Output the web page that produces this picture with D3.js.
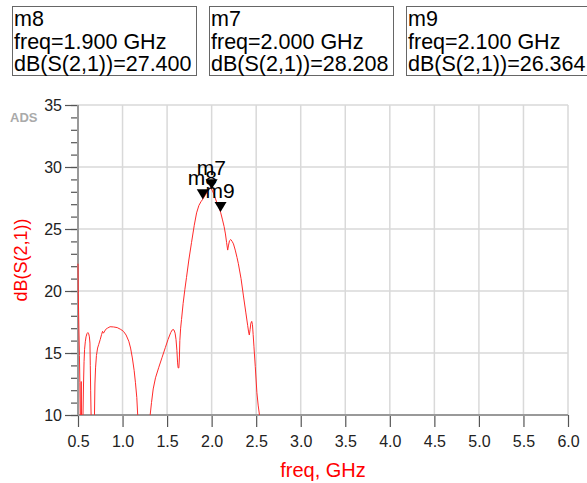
<!DOCTYPE html>
<html>
<head>
<meta charset="utf-8">
<script src="https://cdn.jsdelivr.net/npm/d3@7"></script>
<style>
  html, body { margin: 0; padding: 0; background: #fff; }
  svg { display: block; font-family: "Liberation Sans", Arial, sans-serif; }
</style>
</head>
<body>
<svg id="chart" width="587" height="483"></svg>
<script>
// Swept S21 response (freq in GHz, gain in dB)
const freqGHz = [
  0.500, 0.503, 0.510, 0.516, 0.521, 0.526, 0.531, 0.536, 0.541, 0.550,
  0.556, 0.562, 0.568, 0.574, 0.582, 0.590, 0.600, 0.611, 0.620, 0.628,
  0.634, 0.638, 0.642, 0.647, 0.655, 0.675, 0.685, 0.690, 0.697, 0.707,
  0.720, 0.733, 0.750, 0.765, 0.776, 0.785, 0.795, 0.810, 0.830, 0.860,
  0.900, 0.940, 0.980, 1.010, 1.040, 1.070, 1.090, 1.110, 1.130, 1.145,
  1.160, 1.170, 1.185, 1.295, 1.310, 1.325, 1.344, 1.370, 1.407, 1.444,
  1.481, 1.511, 1.541, 1.557, 1.567, 1.578, 1.590, 1.600, 1.610, 1.618,
  1.624, 1.632, 1.638, 1.643, 1.652, 1.662, 1.680, 1.699, 1.718, 1.744,
  1.774, 1.805, 1.831, 1.857, 1.880, 1.900, 1.930, 1.960, 1.980, 2.000,
  2.020, 2.040, 2.060, 2.080, 2.100, 2.120, 2.140, 2.155, 2.168, 2.180,
  2.190, 2.200, 2.215, 2.230, 2.245, 2.265, 2.285, 2.300, 2.330, 2.357,
  2.383, 2.405, 2.415, 2.423, 2.432, 2.440, 2.450, 2.458, 2.466, 2.475,
  2.490, 2.508, 2.522, 2.537, 2.550
];
const s21dB = [
  22.2, 19.8, 17.0, 14.8, 12.6, 9.0, 8.5, 12.7, 8.5, 8.0,
  10.0, 12.5, 14.3, 15.3, 15.9, 16.3, 16.55, 16.65, 16.55, 16.3,
  15.8, 14.0, 12.0, 10.0, 8.0, 8.0, 10.0, 12.5, 13.8, 14.8,
  15.4, 15.7, 16.1, 16.5, 16.75, 16.6, 16.7, 16.9, 17.0, 17.12,
  17.1, 17.05, 16.9, 16.75, 16.45, 15.95, 15.4, 14.6, 13.6, 12.6,
  11.4, 10.0, 8.0, 8.0, 10.0, 11.0, 12.1, 13.0, 13.85, 14.65,
  15.45, 16.1, 16.65, 16.85, 16.9, 16.85, 16.6, 16.1, 15.2, 14.2,
  13.8, 13.8, 14.6, 16.0, 17.0, 17.7, 19.0, 20.1, 21.1, 22.5,
  23.9, 25.3, 26.3, 26.9, 27.2, 27.4, 27.75, 28.1, 28.3, 28.208,
  27.9, 27.5, 27.1, 26.8, 26.364, 25.8, 25.2, 24.6, 23.9, 23.3,
  23.7, 24.05, 24.15, 24.0, 23.8, 23.3, 22.7, 22.2, 21.0, 19.6,
  18.3, 17.2, 16.7, 16.45, 16.9, 17.4, 17.55, 17.3, 16.5, 15.5,
  13.9, 11.8, 10.8, 10.0, 8.5
];

// Markers
const markerNames = ["m8", "m7", "m9"];
const markerFreq = [1.900, 2.000, 2.100];
const markerDB = [27.400, 28.208, 26.364];

// Axis ticks
const xTicks = [0.5, 1.0, 1.5, 2.0, 2.5, 3.0, 3.5, 4.0, 4.5, 5.0, 5.5, 6.0];
const yTicks = [10, 15, 20, 25, 30, 35];
const yMinorTicks = d3.range(10, 36, 1);

const svg = d3.select("#chart");
const plotL = 78, plotR = 568, plotT = 105, plotB = 415;

const x = d3.scaleLinear().domain([0.5, 6.0]).range([plotL, plotR]);
const y = d3.scaleLinear().domain([10, 35]).range([plotB, plotT]);

// Marker readout boxes
const boxX = [12, 209, 406];
const boxes = svg.append("g").selectAll("g")
  .data(markerNames.map((n, i) => ({ n, f: markerFreq[i], v: markerDB[i], bx: boxX[i] })))
  .join("g")
  .attr("transform", d => `translate(${d.bx},6)`);
boxes.append("rect")
  .attr("x", 0.5).attr("y", 0.5)
  .attr("width", 184).attr("height", 69)
  .attr("fill", "#fff").attr("stroke", "#666").attr("stroke-width", 1);
boxes.each(function (d) {
  const g = d3.select(this);
  const lines = [d.n, `freq=${d.f.toFixed(3)} GHz`, `dB(S(2,1))=${d.v.toFixed(3)}`];
  lines.forEach((t, k) => {
    g.append("text")
      .attr("x", 2).attr("y", 20 + k * 22.5)
      .attr("font-size", 21.5).attr("fill", "#000")
      .text(t);
  });
});

// Grid
const grid = svg.append("g");
grid.selectAll("line.vg").data(xTicks.slice(1)).join("line")
  .attr("x1", d => x(d)).attr("x2", d => x(d))
  .attr("y1", plotT).attr("y2", plotB)
  .attr("stroke", "#d9d9d9").attr("stroke-width", 1.5);
grid.selectAll("line.hg").data(yTicks.slice(1)).join("line")
  .attr("x1", plotL).attr("x2", plotR)
  .attr("y1", d => y(d)).attr("y2", d => y(d))
  .attr("stroke", "#d9d9d9").attr("stroke-width", 1.5);

// Axes
const xAxis = svg.append("g")
  .attr("transform", `translate(0,${plotB})`)
  .call(d3.axisBottom(x).tickValues(xTicks).tickSize(12).tickSizeOuter(0)
    .tickFormat(d3.format(".1f")));
const yMinor = svg.append("g")
  .attr("transform", `translate(${plotL},0)`)
  .call(d3.axisLeft(y).tickValues(yMinorTicks).tickSize(7).tickFormat(""));
const yAxis = svg.append("g")
  .attr("transform", `translate(${plotL},0)`)
  .call(d3.axisLeft(y).tickValues(yTicks).tickSize(13).tickPadding(3).tickSizeOuter(0)
    .tickFormat(d3.format("d")));
[xAxis, yAxis, yMinor].forEach(a => {
  a.select(".domain").remove();
  a.selectAll(".tick line").attr("stroke", "#555").attr("stroke-width", 1.2);
  a.selectAll(".tick text").attr("font-size", 16).attr("fill", "#222")
    .attr("font-family", "'Liberation Sans', Arial, sans-serif");
});
xAxis.selectAll(".tick text").attr("dy", "1.05em");

// Axis lines
svg.append("line").attr("x1", plotL).attr("x2", plotL).attr("y1", plotT).attr("y2", plotB)
  .attr("stroke", "#999").attr("stroke-width", 2);
svg.append("line").attr("x1", plotL).attr("x2", plotR).attr("y1", plotB).attr("y2", plotB)
  .attr("stroke", "#999").attr("stroke-width", 2);

// Curve
svg.append("clipPath").attr("id", "plotClip")
  .append("rect").attr("x", plotL - 1).attr("y", plotT).attr("width", plotR - plotL + 1).attr("height", plotB - plotT);
const pts = freqGHz.map((f, i) => [f, s21dB[i]]);
svg.append("path")
  .datum(pts)
  .attr("clip-path", "url(#plotClip)")
  .attr("fill", "none").attr("stroke", "#ff2a2a").attr("stroke-width", 1)
  .attr("d", d3.line().x(d => x(d[0])).y(d => y(d[1])));

// Marker triangles and labels
const mk = svg.append("g").selectAll("g")
  .data(markerNames.map((n, i) => ({ n, f: markerFreq[i], v: markerDB[i] })))
  .join("g")
  .attr("transform", d => `translate(${x(d.f)},${y(d.v)})`);
mk.append("path").attr("d", "M0,0 L-6,-10 L6,-10 Z").attr("fill", "#000");
mk.append("text").attr("x", -15).attr("y", -14)
  .attr("font-size", 21).attr("fill", "#000").text(d => d.n);

// Titles
svg.append("text").attr("x", (plotL + plotR) / 2).attr("y", 477)
  .attr("text-anchor", "middle").attr("font-size", 20).attr("fill", "#ff0000")
  .text("freq, GHz");
svg.append("text")
  .attr("transform", `translate(27,${(plotT + plotB) / 2}) rotate(-90)`)
  .attr("text-anchor", "middle").attr("font-size", 18).attr("fill", "#ff0000")
  .text("dB(S(2,1))");
svg.append("text").attr("x", 10).attr("y", 122)
  .attr("font-size", 13).attr("fill", "#aaa").attr("font-weight", "bold")
  .text("ADS");
</script>
</body>
</html>
